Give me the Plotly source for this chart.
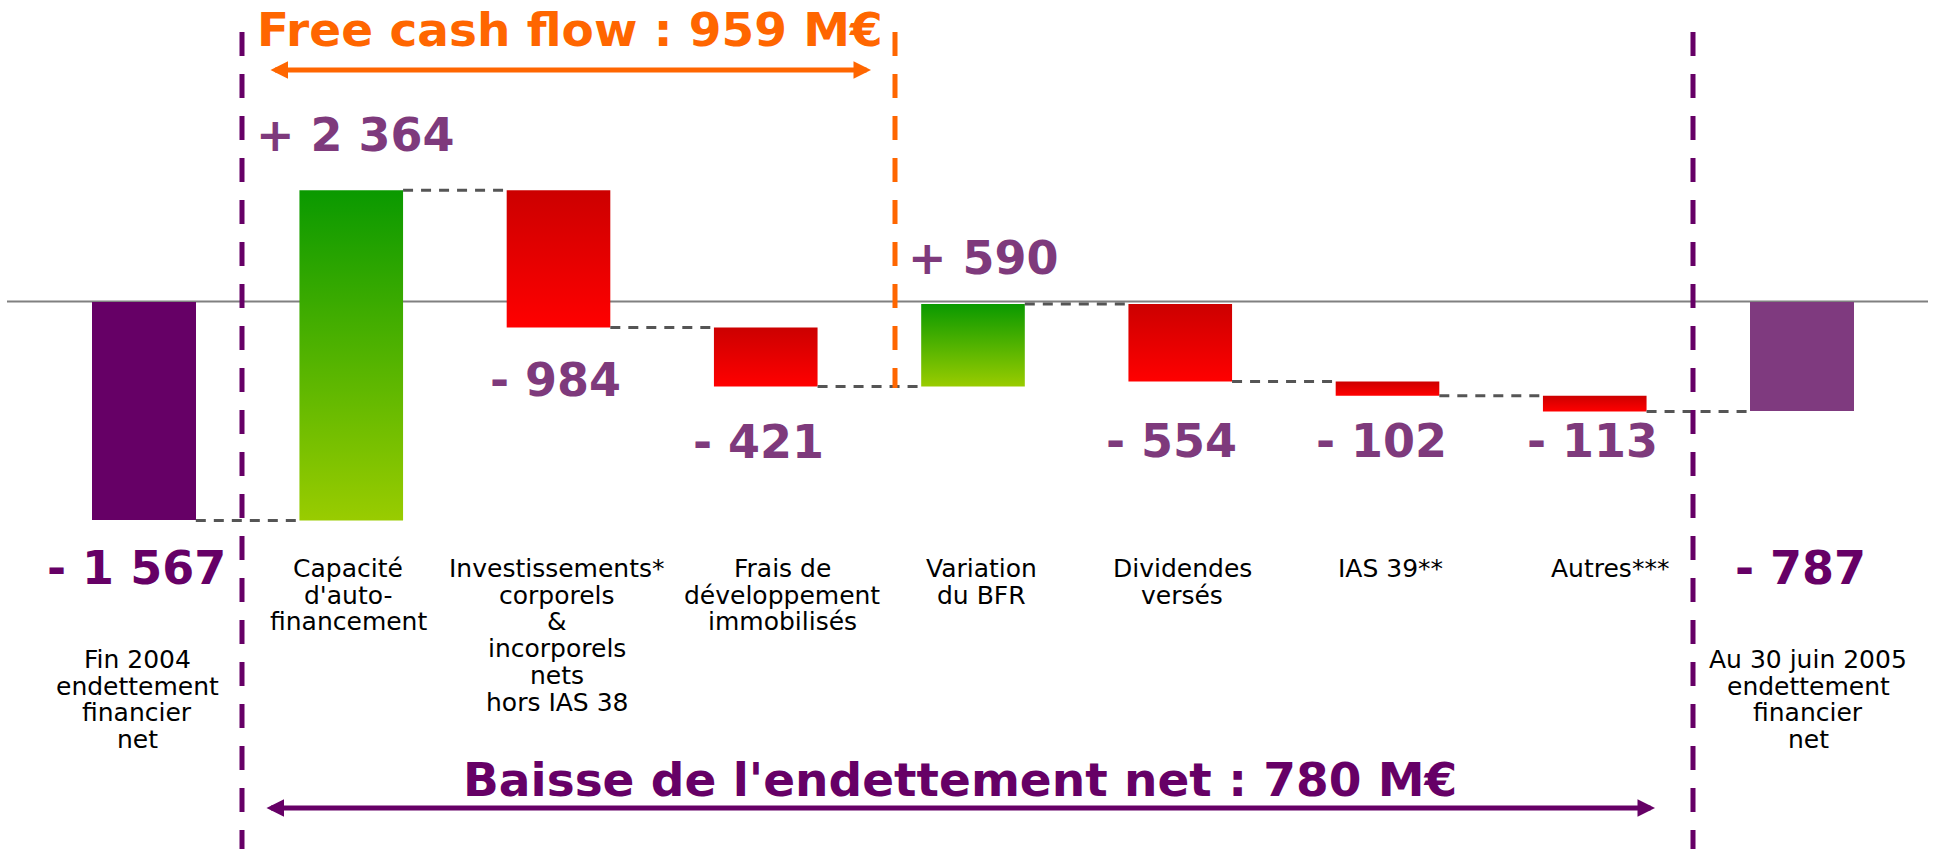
import plotly.graph_objects as go

# ---------------- data ----------------
categories = ["Fin 2004", "CAF", "Investissements", "Frais de développement",
              "Variation du BFR", "Dividendes versés", "IAS 39", "Autres", "Au 30 juin 2005"]
start_value = -1567
deltas = [2364, -984, -421, 590, -554, -102, -113]
end_value = -787
cat_labels = [
    ["Fin 2004", "endettement", "financier", "net"],
    ["Capacité", "d'auto-", "financement"],
    ["Investissements*", "corporels", "&", "incorporels", "nets", "hors IAS 38"],
    ["Frais de", "développement", "immobilisés"],
    ["Variation", "du BFR"],
    ["Dividendes", "versés"],
    ["IAS 39**"],
    ["Autres***"],
    ["Au 30 juin 2005", "endettement", "financier", "net"],
]
fcf_title = "Free cash flow : 959 M€"
debt_title = "Baisse de l'endettement net : 780 M€"

# ---------------- layout helpers ----------------
W, H = 1937, 849
def px(x):
    return x / W
def py(y):
    return 1 - y / H

FONT = "DejaVu Sans"
DARK_PURPLE = "#660066"
LIGHT_PURPLE = "#7E3A7C"
ORANGE = "#FF6600"
GREEN = [[0, "#99CC00"], [1, "#0A9900"]]
RED = [[0, "#FF0000"], [1, "#CC0000"]]
BW = 0.5

def fmt(v):
    sign = "+" if v > 0 else "-"
    return f"{sign} {abs(v):,}".replace(",", " ")

levels = [start_value]
for d in deltas:
    levels.append(levels[-1] + d)

fig = go.Figure()

# end-point bars
fig.add_trace(go.Bar(x=[0, len(categories) - 1], y=[start_value, end_value], width=BW,
                     marker=dict(color=[DARK_PURPLE, "#7F3A7F"], line=dict(width=0)),
                     hoverinfo="skip", showlegend=False))

# gradient step bars
for i, d in enumerate(deltas):
    k = i + 1
    lo, hi = min(levels[i], levels[i + 1]), max(levels[i], levels[i + 1])
    fig.add_trace(go.Scatter(
        x=[k - BW / 2, k + BW / 2, k + BW / 2, k - BW / 2, k - BW / 2],
        y=[lo, lo, hi, hi, lo], mode="lines", fill="toself",
        line=dict(width=0), fillcolor="#00AA00",
        fillgradient=dict(type="vertical", colorscale=GREEN if d > 0 else RED),
        hoverinfo="skip", showlegend=False))

# connectors
for k in range(len(levels)):
    fig.add_trace(go.Scatter(x=[k + BW / 2, k + 1 - BW / 2], y=[levels[k], levels[k]],
                             mode="lines", line=dict(color="#555555", width=3, dash="10px,8px"),
                             hoverinfo="skip", showlegend=False))

shapes = []
# zero line
shapes.append(dict(type="line", xref="paper", yref="y", x0=px(7), x1=px(1928), y0=0, y1=0,
                   line=dict(color="#808080", width=2), layer="below"))
# vertical dashed separators
for xx, col, ybot in [(242, DARK_PURPLE, 849), (1693, DARK_PURPLE, 849), (895, ORANGE, 388)]:
    shapes.append(dict(type="line", xref="paper", yref="paper", x0=px(xx), x1=px(xx),
                       y0=py(32), y1=py(ybot), line=dict(color=col, width=5, dash="24px,18px")))

ann = []
# titles
ann.append(dict(text=fcf_title, x=px(570), y=py(29), xref="paper", yref="paper",
                showarrow=False, xanchor="center", yanchor="middle",
                font=dict(family=FONT, size=47, color=ORANGE, weight="bold")))
ann.append(dict(text=debt_title, x=px(960), y=py(779), xref="paper", yref="paper",
                showarrow=False, xanchor="center", yanchor="middle",
                font=dict(family=FONT, size=47, color=DARK_PURPLE, weight="bold")))
# double arrows
for x0, x1, yy, col in [(269, 871, 70, ORANGE), (265, 1655, 808, DARK_PURPLE)]:
    ann.append(dict(text="", x=px(x1), y=py(yy), xref="paper", yref="paper",
                    ax=x0 - x1, ay=0, axref="pixel", ayref="pixel", showarrow=True,
                    arrowhead=2, startarrowhead=2, arrowside="end+start",
                    arrowsize=0.7, startarrowsize=0.7, arrowwidth=5, arrowcolor=col,
                    standoff=0, startstandoff=0))

# value labels
value_pos = [(136, 568), (355, 135), (555, 380), (758, 442), (984, 258),
             (1171, 441), (1381, 441), (1592, 441), (1800, 568)]
values = [start_value] + deltas + [end_value]
colors = [DARK_PURPLE] + [LIGHT_PURPLE] * len(deltas) + [DARK_PURPLE]
for (xx, yy), v, c in zip(value_pos, values, colors):
    ann.append(dict(text=fmt(v), x=px(xx), y=py(yy), xref="paper", yref="paper",
                    showarrow=False, xanchor="center", yanchor="middle",
                    font=dict(family=FONT, size=46, color=c, weight="bold")))

# category labels (one annotation per line for tight line pitch)
label_pos = [(137, 668), (348, 577), (557, 577), (782, 577), (981, 577),
             (1182, 577), (1390, 577), (1610, 577), (1808, 668)]
PITCH = 26.8
LS = 25
for (xx, base), lines in zip(label_pos, cat_labels):
    for j, line in enumerate(lines):
        ann.append(dict(text=line, x=px(xx), y=py(base + j * PITCH - 0.346 * LS),
                        xref="paper", yref="paper", showarrow=False,
                        xanchor="center", yanchor="middle",
                        font=dict(family=FONT, size=LS, color="#000000")))

scale = 0.1397  # px per unit
zero_px = 301.5
fig.update_layout(
    width=W, height=H, margin=dict(l=0, r=0, t=0, b=0),
    paper_bgcolor="white", plot_bgcolor="white",
    xaxis=dict(range=[-144 / 207.25, (W - 144) / 207.25], visible=False, fixedrange=True),
    yaxis=dict(range=[-(H - zero_px) / scale, zero_px / scale], visible=False, fixedrange=True),
    shapes=shapes, annotations=ann, bargap=0, showlegend=False,
)

fig.write_html("out.html", config={"displayModeBar": False},
               post_script="document.body.style.margin='0';document.body.style.overflow='hidden';")
